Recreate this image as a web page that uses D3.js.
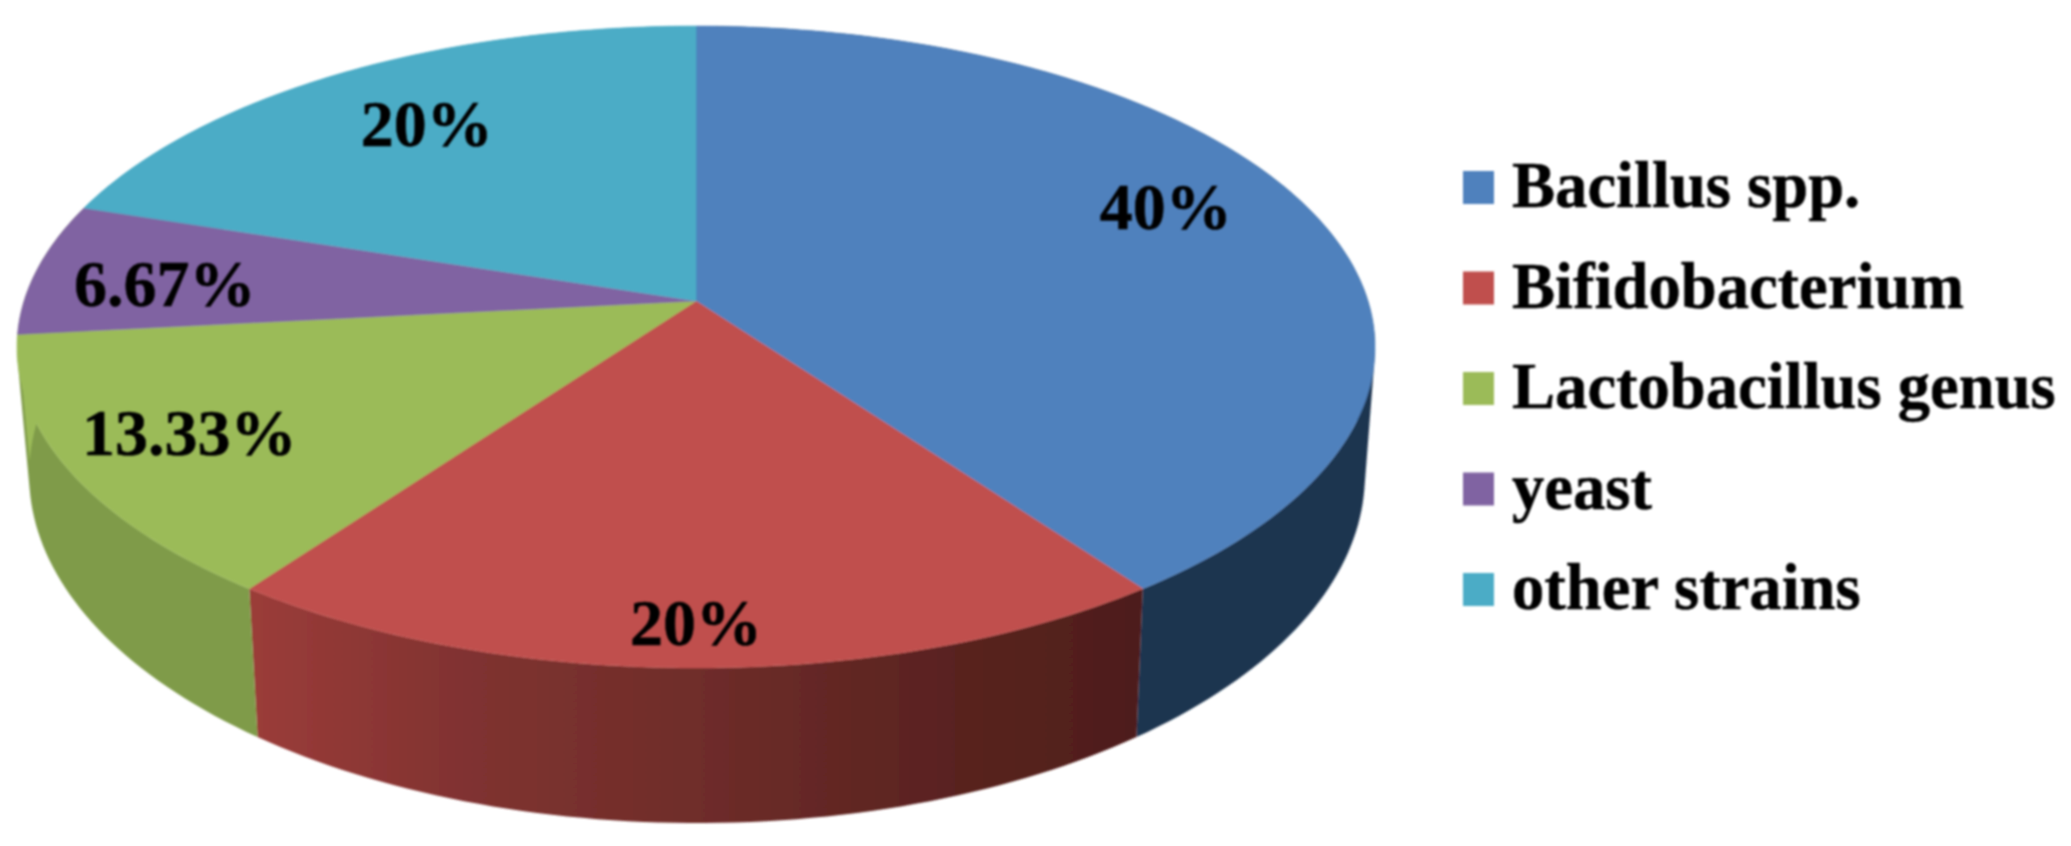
<!DOCTYPE html>
<html>
<head>
<meta charset="utf-8">
<script src="https://cdn.jsdelivr.net/npm/d3@7/dist/d3.min.js"></script>
<style>
html,body{margin:0;padding:0;background:#fff;overflow:hidden}
svg{display:block}
text{font-family:"Liberation Serif","Times New Roman",serif;font-weight:700;fill:#050505;stroke:#050505;stroke-width:0.5px}
</style>
</head>
<body>
<svg id="chart" width="2071" height="846"></svg>
<script>
// ---- data ----
const categories = ["Bacillus spp.", "Bifidobacterium", "Lactobacillus genus", "yeast", "other strains"];
const values = [40, 20, 13.33, 6.67, 20];
const valueLabels = ["40%", "20%", "13.33%", "6.67%", "20%"];

// ---- styles ----
const topColors = ["#4f81bd", "#c0504d", "#9bbb59", "#8064a2", "#4bacc6"];
const rimColors = ["#1f3550", "url(#redRim)", "#7f9b4a", "#9bbb59", "#4bacc6"];
const labelRadius = [0.79, 0.893, 0.817, 0.803, 0.757];   // fraction of the radius
const labelTurn = [-5.3, 0.25, 1.2, -2.1, 0.4];           // degrees from the slice middle

// ---- perspective of the two discs: a unit circle seen from above ----
const topDisc = {cx: 696, cy: 301, a: 672, b: 314.4, k: 0.1433};
const baseDisc = {cx: 697, cy: 425, a: 661, b: 341, k: 0.1433};
const project = (disc, angle, r = 1) => {
  const u = Math.sin(angle) * r, v = Math.cos(angle) * r, w = 1 + disc.k * v;
  return [disc.cx + disc.a * u / w, disc.cy - disc.b * v / w];
};
const arcSamples = (a0, a1, step = 0.01) => {
  const n = Math.max(2, Math.ceil((a1 - a0) / step));
  return d3.range(n + 1).map(i => a0 + (a1 - a0) * i / n);
};

const svg = d3.select("#chart");
const defs = svg.append("defs");
defs.append("filter").attr("id", "soft")
  .attr("x", "-2%").attr("y", "-2%").attr("width", "104%").attr("height", "104%")
  .append("feGaussianBlur").attr("stdDeviation", 0.8);

const slices = d3.pie().sort(null).value(d => d)(values);
const line = d3.line();

// gradient of the front of the red slice
const redStart = project(baseDisc, slices[1].endAngle);
const redEnd = project(baseDisc, slices[1].startAngle);
const redGrad = defs.append("linearGradient").attr("id", "redRim")
  .attr("gradientUnits", "userSpaceOnUse")
  .attr("x1", redStart[0]).attr("x2", redEnd[0]).attr("y1", 0).attr("y2", 0);
[[0, "#9a3c39"], [0.25, "#7f3230"], [0.5, "#6f2d2a"], [0.75, "#5c2421"], [1, "#4e1e1a"]]
  .forEach(([o, c]) => redGrad.append("stop").attr("offset", o).attr("stop-color", c));

const pie = svg.append("g").attr("filter", "url(#soft)");

// side wall: one path per slice made of quads between the two discs, all wound the
// same way, so the outline follows the hull of both discs without seams
const wallPath = d => {
  const as = arcSamples(d.startAngle, d.endAngle, 0.02);
  return as.slice(1).map((a, j) => {
    const quad = [project(topDisc, as[j]), project(topDisc, a), project(baseDisc, a), project(baseDisc, as[j])];
    if (d3.polygonArea(quad) < 0) quad.reverse();
    return line(quad) + "Z";
  }).join("");
};
pie.append("g").selectAll("path")
  .data(slices)
  .join("path")
  .attr("fill", (d, i) => rimColors[i])
  .attr("fill-rule", "nonzero")
  .attr("d", wallPath);

// top face
pie.append("g").selectAll("path")
  .data(slices)
  .join("path")
  .attr("fill", (d, i) => topColors[i])
  .attr("stroke", (d, i) => topColors[i])
  .attr("stroke-width", 0.5)
  .attr("d", d => {
    const as = arcSamples(d.startAngle, d.endAngle);
    return line([project(topDisc, 0, 0)].concat(as.map(a => project(topDisc, a)))) + "Z";
  });

const texts = svg.append("g").attr("filter", "url(#soft)");

// value labels
texts.append("g").selectAll("text")
  .data(slices)
  .join("text")
  .attr("font-size", 66)
  .attr("text-anchor", "middle")
  .attr("dominant-baseline", "central")
  .attr("dx", 3)
  .each(function (d, i) {
    const mid = (d.startAngle + d.endAngle) / 2 + labelTurn[i] * Math.PI / 180;
    const p = project(topDisc, mid, labelRadius[i]);
    d3.select(this).attr("x", p[0]).attr("y", p[1]);
  })
  .text((d, i) => valueLabels[i]);

// legend
const legendY = d3.scalePoint().domain(categories).range([187, 589]);
const legend = texts.append("g").selectAll("g")
  .data(categories)
  .join("g")
  .attr("transform", d => `translate(0,${legendY(d)})`);
legend.append("rect")
  .attr("x", 1463).attr("y", -16).attr("width", 31).attr("height", 33)
  .attr("fill", (d, i) => topColors[i])
  .attr("stroke", "none");
legend.append("text")
  .attr("x", 1512).attr("y", 20)
  .attr("font-size", 64.6)
  .text(d => d);
</script>
</body>
</html>
